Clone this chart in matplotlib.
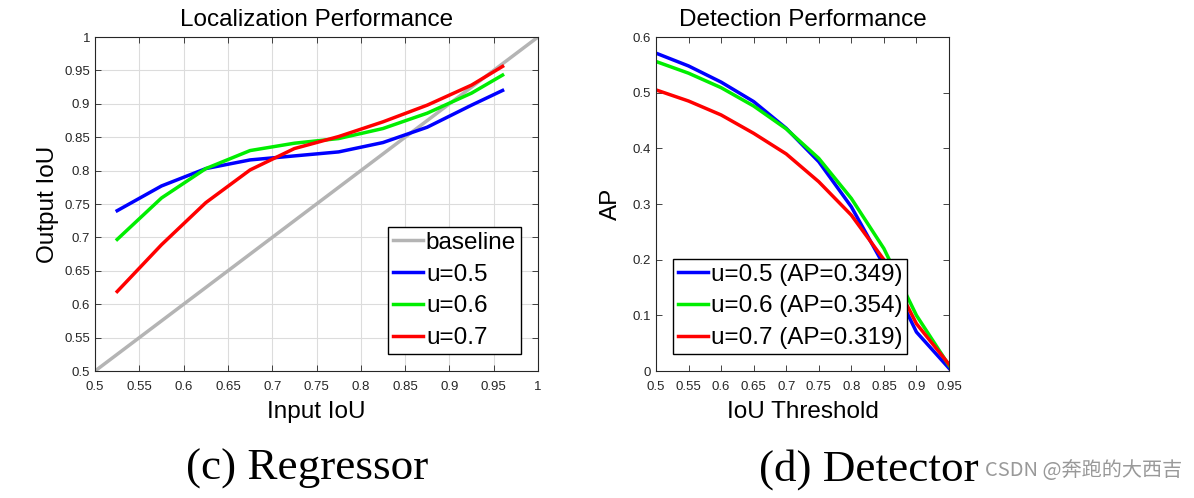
import matplotlib
matplotlib.use("Agg")
import matplotlib.pyplot as plt

plt.rcParams['font.family'] = ['Liberation Sans', 'DejaVu Sans']

# ---- données ----
x_reg = [0.525, 0.575, 0.625, 0.675, 0.725, 0.775, 0.825, 0.875, 0.925, 0.96]
reg_u5 = [0.740, 0.777, 0.803, 0.816, 0.822, 0.828, 0.842, 0.865, 0.898, 0.920]
reg_u6 = [0.697, 0.759, 0.803, 0.830, 0.841, 0.848, 0.863, 0.886, 0.916, 0.943]
reg_u7 = [0.619, 0.689, 0.752, 0.801, 0.833, 0.851, 0.873, 0.898, 0.928, 0.956]
baseline = [0.5, 1.0]

x_det = [0.5, 0.55, 0.6, 0.65, 0.7, 0.75, 0.8, 0.85, 0.9, 0.95]
det_u5 = [0.571, 0.548, 0.519, 0.484, 0.436, 0.376, 0.295, 0.190, 0.070, 0.005]
det_u6 = [0.556, 0.535, 0.509, 0.476, 0.435, 0.382, 0.310, 0.220, 0.100, 0.010]
det_u7 = [0.505, 0.485, 0.460, 0.427, 0.390, 0.340, 0.280, 0.200, 0.085, 0.012]

reg_ticks_x = [0.5, 0.55, 0.6, 0.65, 0.7, 0.75, 0.8, 0.85, 0.9, 0.95, 1]
reg_ticks_y = reg_ticks_x
det_ticks_x = [0.5, 0.55, 0.6, 0.65, 0.7, 0.75, 0.8, 0.85, 0.9, 0.95]
det_ticks_y = [0, 0.1, 0.2, 0.3, 0.4, 0.5, 0.6]

labels_reg = ["u=0.5", "u=0.6", "u=0.7"]
labels_det = ["u=0.5 (AP=0.349)", "u=0.6 (AP=0.354)", "u=0.7 (AP=0.319)"]
couleurs = ["#0000ff", "#00ee00", "#ff0000"]

def fmt(v):
    return "%g" % v

fig = plt.figure(figsize=(11.94, 4.98), dpi=100)

# ---- (c) Regressor ----
ax1 = fig.add_axes([0.0796, 0.255, 0.371, 0.6707])
ax1.plot(baseline, baseline, color="#b4b4b4", lw=2.5, label="baseline")
for ys, c, lab in zip([reg_u5, reg_u6, reg_u7], couleurs, labels_reg):
    ax1.plot(x_reg, ys, color=c, lw=2.5, label=lab)
ax1.set_xlim(0.5, 1)
ax1.set_ylim(0.5, 1)
ax1.set_xticks(reg_ticks_x)
ax1.set_yticks(reg_ticks_y)
ax1.set_xticklabels([fmt(v) for v in reg_ticks_x])
ax1.set_yticklabels([fmt(v) for v in reg_ticks_y])
ax1.grid(True, color="#dcdcdc", lw=0.8)
ax1.set_title("Localization Performance", fontsize=17.5, pad=8)
ax1.set_xlabel("Input IoU", fontsize=17.5, labelpad=6)
ax1.set_ylabel("Output IoU", fontsize=17.5, labelpad=4)
ax1.legend(loc="lower right", fontsize=17.5, frameon=True, fancybox=False,
           edgecolor="black", framealpha=1, handlelength=1.25, handletextpad=0.1,
           borderpad=0.2, labelspacing=0.4, borderaxespad=0.7)

# ---- (d) Detector ----
ax2 = fig.add_axes([0.5494, 0.255, 0.2454, 0.6707])
for ys, c, lab in zip([det_u5, det_u6, det_u7], couleurs, labels_det):
    ax2.plot(x_det, ys, color=c, lw=2.5, label=lab)
ax2.set_xlim(0.5, 0.95)
ax2.set_ylim(0, 0.6)
ax2.set_xticks(det_ticks_x)
ax2.set_yticks(det_ticks_y)
ax2.set_xticklabels([fmt(v) for v in det_ticks_x])
ax2.set_yticklabels([fmt(v) for v in det_ticks_y])
ax2.set_title("Detection Performance", fontsize=17.5, pad=8)
ax2.set_xlabel("IoU Threshold", fontsize=17.5, labelpad=6)
ax2.set_ylabel("AP", fontsize=17.5, labelpad=8)
ax2.legend(loc="lower left", fontsize=17.5, frameon=True, fancybox=False,
           edgecolor="black", framealpha=1, handlelength=1.25, handletextpad=0.1,
           borderpad=0.2, labelspacing=0.4, borderaxespad=0.7)

for ax in (ax1, ax2):
    ax.tick_params(direction="in", top=True, right=True, labelsize=9.5,
                   length=4, width=0.6, colors="#262626", labelcolor="#262626")
    ax.tick_params(axis="x", pad=7)
    ax.tick_params(axis="y", pad=3.5)
    for sp in ax.spines.values():
        sp.set_linewidth(0.8)
        sp.set_color("#262626")

fig.text(0.257, 0.058, "(c) Regressor", family="Liberation Serif", fontsize=32.5,
         ha="center", va="center")
fig.text(0.728, 0.058, "(d) Detector", family="Liberation Serif", fontsize=32.5,
         ha="center", va="center")
fig.text(0.825, 0.056, "CSDN @奔跑的大西吉", family=["Noto Sans CJK SC", "DejaVu Sans"],
         fontsize=14.5, color="#999999", ha="left", va="center")

plt.savefig("out.png", dpi=100)
